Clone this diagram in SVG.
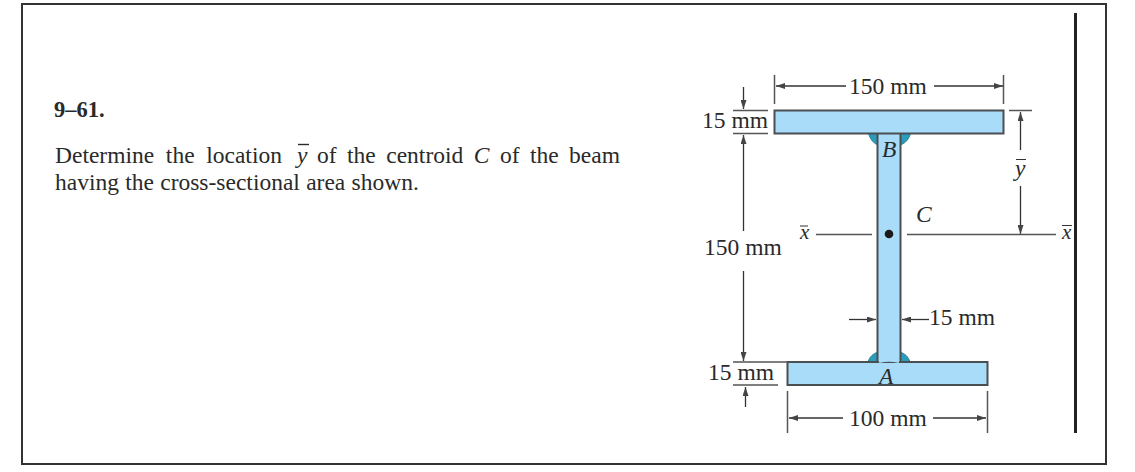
<svg xmlns="http://www.w3.org/2000/svg" width="1135" height="472" viewBox="0 0 1135 472">
<style>
text{font-family:"Liberation Serif","Times New Roman",serif;fill:#2a2a2a}
.t{font-size:23.500px}
.d{font-size:23.500px}
.i{font-style:italic}
.s{fill:#a8dcf8;stroke:#4a4f52;stroke-width:2}
.w{fill:#2a9cbc;stroke:#2a7f98;stroke-width:1}
.l{fill:none;stroke:#555;stroke-width:1.5}
.o{fill:none;stroke:#333;stroke-width:1.3}
</style>
<defs>
<marker id="a" markerWidth="10" markerHeight="6" refX="9" refY="3" orient="auto" markerUnits="userSpaceOnUse"><path d="M0 0L9 3L0 6z" fill="#444"/></marker>
</defs>
<rect width="1135" height="472" fill="#fff"/>
<rect x="22" y="4" width="1084" height="460" fill="none" stroke="#333" stroke-width="2"/>
<line x1="1075.500" y1="13" x2="1075.500" y2="433" stroke="#222" stroke-width="3"/>
<g id="problem-text">
<text x="54" y="117" font-size="22.500" font-weight="bold">9–61.</text>
<text x="55" y="163" class="t" word-spacing="5.800">Determine the location <tspan class="i" x="297">y</tspan> <tspan x="317" word-spacing="4.600">of the centroid <tspan class="i">C</tspan> of the beam</tspan></text>
<path d="M298 144.500H309" stroke="#2a2a2a" stroke-width="1.400"/>
<text x="55" y="190" class="t" word-spacing="0.400">having the cross-sectional area shown.</text>
</g>
<g id="beam">
<path class="w" d="M868 132C870 139 873 143 878 145V132z"/>
<path class="w" d="M911 132C909 139 906 143 900 145V132z"/>
<path class="w" d="M868 362C870 356 873 354 878 352V362z"/>
<path class="w" d="M910 362C908 356 905 354 900 352V362z"/>
<rect id="web" class="s" x="877.500" y="133" width="23" height="229"/>
<rect id="top-flange" class="s" x="774.500" y="110.500" width="229" height="23"/>
<rect id="bottom-flange" class="s" x="787.500" y="362" width="200" height="23"/>
<path d="M879 361.500Q889 359 899 361.500" fill="none" stroke="#a8dcf8" stroke-width="3"/>
<circle id="centroid" cx="889" cy="234" r="4.300" fill="#1a1a1a"/>
</g>
<g id="connectors">
<path class="l" d="M774.500 75V104M1003.500 75V104"/>
<path class="o" d="M846 86H776" marker-end="url(#a)"/>
<path class="o" d="M934 86H1003" marker-end="url(#a)"/>
<path class="l" d="M733 110.500H768M733 133.500H768"/>
<path class="o" d="M743.500 87V109" marker-end="url(#a)"/>
<path class="o" d="M743.500 231V135" marker-end="url(#a)"/>
<path class="o" d="M743.500 271V361" marker-end="url(#a)"/>
<path class="l" d="M733 362H787M733 385H778"/>
<path class="o" d="M745.500 407V387" marker-end="url(#a)"/>
<path class="l" d="M787.500 391V433M987.500 391V433"/>
<path class="o" d="M843 418H789" marker-end="url(#a)"/>
<path class="o" d="M933 418H986" marker-end="url(#a)"/>
<path class="o" d="M849 319.500H876" marker-end="url(#a)"/>
<path class="o" d="M929 319.500H902" marker-end="url(#a)"/>
<path class="l" d="M1009 110.500H1032"/>
<path class="o" d="M1020.500 150V112" marker-end="url(#a)"/>
<path class="o" d="M1020.500 186V234" marker-end="url(#a)"/>
<path class="l" d="M816 234.500H872M907 234.500H1056"/>
</g>
<g id="labels">
<text x="849" y="94" class="d">150 mm</text>
<text x="702" y="128" class="d">15 mm</text>
<text x="704" y="255" class="d">150 mm</text>
<text x="708" y="380" class="d">15 mm</text>
<text x="849" y="426" class="d">100 mm</text>
<text x="929" y="325" class="d">15 mm</text>
<text x="882" y="157" class="d i">B</text>
<text x="879" y="384" class="d i">A</text>
<text x="916" y="222" class="d i">C</text>
<text x="1015" y="176" class="d i">y</text>
<path d="M1016 159.500H1026M800 226H808M1062 225.500H1072" stroke="#333" stroke-width="1.200"/>
<text x="800" y="239" class="i" font-size="21">x</text>
<text x="1062" y="239" class="i" font-size="21">x</text>
</g>
</svg>
